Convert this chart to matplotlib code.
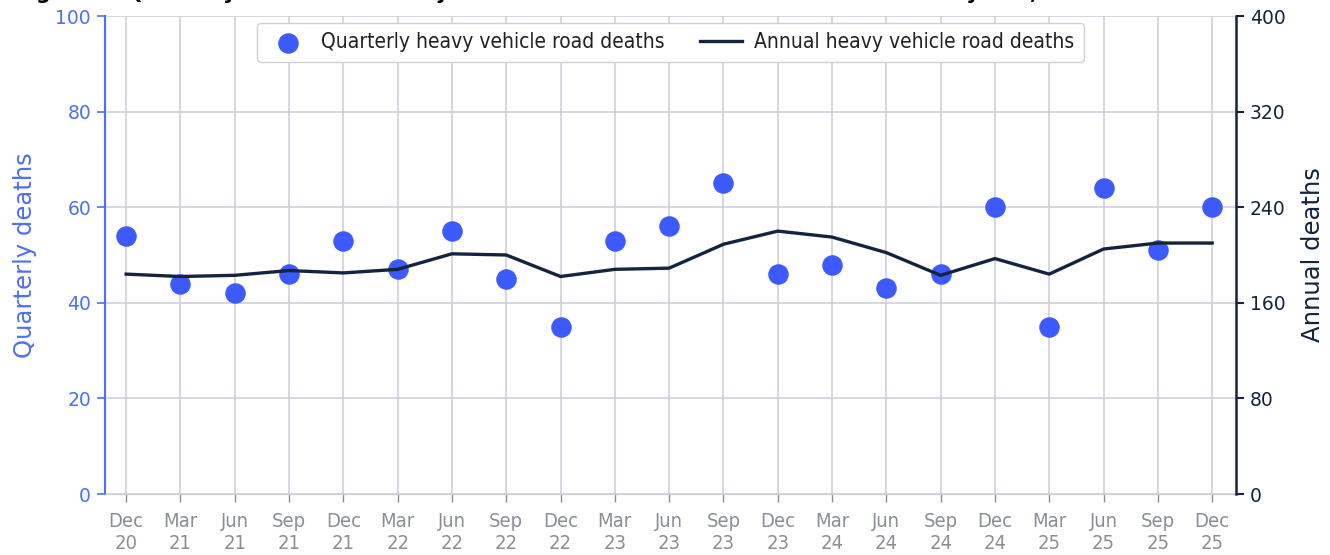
import matplotlib
matplotlib.use("Agg")
import matplotlib.pyplot as plt
from matplotlib import font_manager

quarters = ["Dec\n20", "Mar\n21", "Jun\n21", "Sep\n21", "Dec\n21", "Mar\n22", "Jun\n22",
            "Sep\n22", "Dec\n22", "Mar\n23", "Jun\n23", "Sep\n23", "Dec\n23", "Mar\n24",
            "Jun\n24", "Sep\n24", "Dec\n24", "Mar\n25", "Jun\n25", "Sep\n25", "Dec\n25"]
quarterly_deaths = [54, 44, 42, 46, 53, 47, 55, 45, 35, 53, 56, 65, 46, 48, 43, 46, 60, 35, 64, 51, 60]
annual_deaths = [184, 182, 183, 187, 185, 188, 201, 200, 182, 188, 189, 209, 220, 215, 202, 183, 197, 184, 205, 210, 210]
left_ticks = [0, 20, 40, 60, 80, 100]
right_ticks = [0, 80, 160, 240, 320, 400]

has_cond = any(f.name == "DejaVu Sans" and f.stretch in ("condensed", "semi-condensed")
               for f in font_manager.fontManager.ttflist)
stretch = "condensed" if has_cond else "normal"

BLUE = "#3d5afe"
SPINE_BLUE = "#4f6ef7"
NAVY = "#14243e"
GRID = "#c9cdd9"
GRAYTXT = "#8a8e96"

fig = plt.figure(figsize=(13.3, 5.55), dpi=100)
ax = fig.add_axes([105/1330, 1-494/555, (1236-105)/1330, (494-16)/555])
ax2 = ax.twinx()

x = list(range(len(quarters)))
ax.scatter(x, quarterly_deaths, s=190, color=BLUE, zorder=3, label="Quarterly heavy vehicle road deaths")
ax2.plot(x, annual_deaths, color=NAVY, lw=2.4, zorder=3, label="Annual heavy vehicle road deaths")

ax.set_xlim(-0.39, 20.44)
ax.set_ylim(0, 100)
ax2.set_ylim(0, 400)
ax.set_yticks(left_ticks)
ax2.set_yticks(right_ticks)
ax.set_xticks(x)
ax.set_xticklabels(quarters, fontfamily="DejaVu Sans", fontstretch=stretch,
                   fontsize=14.5, color=GRAYTXT, linespacing=1.2)

ax.grid(True, color=GRID, lw=1.1)
ax.set_axisbelow(True)
ax2.grid(False)

for a in (ax, ax2):
    a.spines["top"].set_visible(False)
ax.spines["bottom"].set_color(GRID)
ax2.spines["bottom"].set_visible(False)
ax.spines["right"].set_visible(False)
ax2.spines["left"].set_visible(False)
ax.spines["left"].set_color(SPINE_BLUE)
ax.spines["left"].set_linewidth(1.5)
ax2.spines["right"].set_color(NAVY)
ax2.spines["right"].set_linewidth(1.8)

ax.tick_params(axis="x", colors=GRAYTXT, length=6, width=1, pad=7, labelcolor=GRAYTXT)
ax.tick_params(axis="y", colors=SPINE_BLUE, length=6, width=1.2, labelsize=13.5, labelcolor=SPINE_BLUE, pad=4)
ax2.tick_params(axis="y", colors=NAVY, length=6, width=1.5, labelsize=13.5, labelcolor=NAVY, pad=4)

ax.set_ylabel("Quarterly deaths", color=SPINE_BLUE, fontsize=17.5, labelpad=13)
ax2.set_ylabel("Annual deaths", color=NAVY, fontsize=17.5, labelpad=11)

h1, l1 = ax.get_legend_handles_labels()
h2, l2 = ax2.get_legend_handles_labels()
leg = ax2.legend(h1 + h2, l1 + l2, loc="upper center", ncol=2, frameon=True,
                 prop={"family": "DejaVu Sans", "stretch": stretch, "size": 15}, labelcolor="#222222",
                 borderpad=0.45, columnspacing=1.7, handlelength=2.0, handletextpad=0.6,
                 borderaxespad=0.33, bbox_to_anchor=(0.5, 1.0), fancybox=True, framealpha=1,
                 edgecolor="#d0d0d0")

fig.text(0.011, 1 + 1/555, "Figure 1: Quarterly and annual heavy vehicle road crash deaths over the last five years, Australia",
         fontsize=14.8, fontweight="bold", va="baseline", ha="left", color="black")

fig.savefig("out.png", dpi=100)
